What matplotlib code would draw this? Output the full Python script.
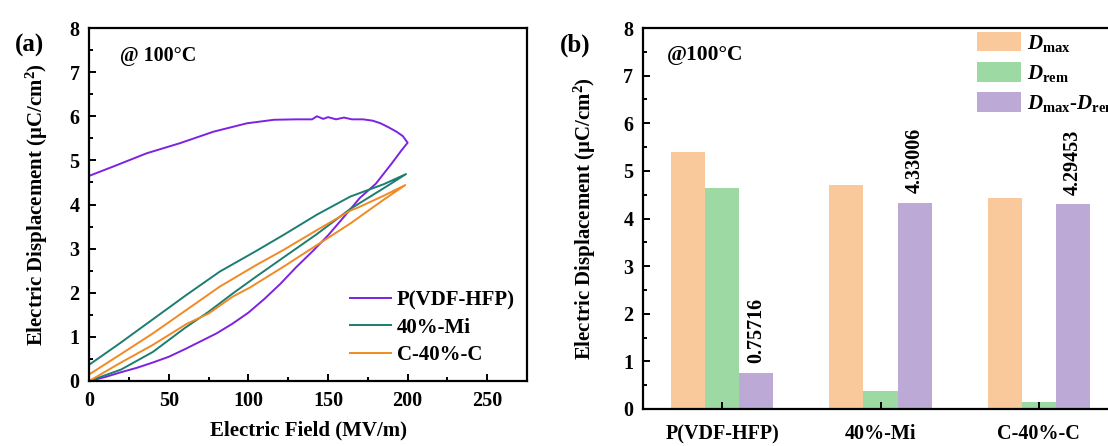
import matplotlib
matplotlib.use("Agg")
import matplotlib.pyplot as plt
import numpy as np
from matplotlib.ticker import MultipleLocator

plt.rcParams["font.family"] = ["Liberation Serif", "DejaVu Serif"]
plt.rcParams["font.weight"] = "bold"
plt.rcParams["axes.labelweight"] = "bold"
plt.rcParams["mathtext.fontset"] = "custom"
plt.rcParams["mathtext.rm"] = "Liberation Serif:bold"
plt.rcParams["mathtext.bf"] = "Liberation Serif:bold"
plt.rcParams["mathtext.it"] = "Liberation Serif:italic:bold"

# (a) D-E loops @100C
pvdf_E = [0, 10, 20, 30, 40, 50, 60, 70, 80, 90, 100, 110, 120, 130, 140, 150, 160, 170, 180, 190, 196, 200,
          197, 193, 188, 183, 178, 172, 165, 160, 155, 150, 147, 143, 140, 130, 116, 99, 78, 57, 36, 15, 0]
pvdf_D = [0, 0.09, 0.2, 0.3, 0.42, 0.55, 0.72, 0.9, 1.08, 1.3, 1.55, 1.86, 2.2, 2.58, 2.93, 3.3, 3.72, 4.15, 4.47, 4.93, 5.22, 5.4,
          5.55, 5.65, 5.75, 5.84, 5.9, 5.93, 5.93, 5.97, 5.93, 5.98, 5.94, 6.0, 5.93, 5.93, 5.92, 5.84, 5.65, 5.39, 5.16, 4.86, 4.65]

mi_E = [0, 20, 40, 60, 75, 90, 105, 122, 143, 164, 185, 199,
        185, 164, 143, 122, 105, 82, 61, 40, 19, 0]
mi_D = [0, 0.26, 0.66, 1.2, 1.57, 1.98, 2.37, 2.8, 3.33, 3.9, 4.37, 4.69,
        4.46, 4.18, 3.77, 3.31, 2.95, 2.48, 1.95, 1.4, 0.85, 0.37]

c_E = [0, 19, 40, 61, 75, 90, 101, 122, 143, 164, 185, 198.5,
       185, 170, 164, 143, 122, 105, 82, 61, 40, 19, 0]
c_D = [0, 0.4, 0.82, 1.29, 1.53, 1.91, 2.12, 2.59, 3.08, 3.57, 4.11, 4.44,
       4.2, 3.95, 3.86, 3.42, 2.97, 2.63, 2.14, 1.61, 1.08, 0.59, 0.15]

# (b) bar chart
samples = ["P(VDF-HFP)", "40%-Mi", "C-40%-C"]
d_max = [5.4, 4.7, 4.44]
d_rem = [4.64, 0.37, 0.15]
d_diff = [0.75716, 4.33006, 4.29453]

fig = plt.figure(figsize=(11.08, 4.46), dpi=100)
ax1 = fig.add_axes([89.3 / 1108, 65 / 446, 437.7 / 1108, 353 / 446])
ax2 = fig.add_axes([643 / 1108, 37 / 446, 475 / 1108, 381 / 446])

# ---- panel (a)
ax1.plot(pvdf_E, pvdf_D, color="#7d22e0", lw=1.4, label="P(VDF-HFP)")
ax1.plot(mi_E, mi_D, color="#1c7d70", lw=1.4, label="40%-Mi")
ax1.plot(c_E, c_D, color="#f08a24", lw=1.4, label="C-40%-C")
ax1.set_xlim(0, 275)
ax1.set_ylim(0, 8)
ax1.xaxis.set_major_locator(MultipleLocator(50))
ax1.xaxis.set_minor_locator(MultipleLocator(25))
ax1.yaxis.set_major_locator(MultipleLocator(1))
ax1.yaxis.set_minor_locator(MultipleLocator(0.5))
ax1.set_xlabel("Electric Field (MV/m)", fontsize=15, labelpad=7)
ax1.set_ylabel("Electric Displacement (\u03bcC/cm$^2$)", fontsize=15, labelpad=14)
ax1.text(0.07, 0.92, "@ 100\u00b0C", transform=ax1.transAxes, fontsize=14.5, va="center")
ax1.legend(loc="lower right", bbox_to_anchor=(1.0, 0.01), frameon=False, fontsize=15,
           handlelength=2.0, handletextpad=0.25, labelspacing=0.35, borderaxespad=0.2)
fig.text(15 / 1108, 1 - 45 / 446, "(a)", fontsize=18, va="center")

# ---- panel (b)
x = np.arange(len(samples))
w = 0.216
ax2.bar(x - w, d_max, w, color="#f9c89b", label="$D_{\\rm max}$")
ax2.bar(x, d_rem, w, color="#9dd9a2", label="$D_{\\rm rem}$")
ax2.bar(x + w, d_diff, w, color="#bca9d6", label="$D_{\\rm max}$-$D_{\\rm rem}$")
for xi, v in zip(x, d_diff):
    ax2.text(xi + w, v + 0.2, f"{v:.5f}".rstrip("0"), rotation=90, ha="center", va="bottom", fontsize=14.5)
ax2.set_xlim(-0.5, 2.5)
ax2.set_ylim(0, 8)
ax2.set_xticks(x)
ax2.set_xticklabels(samples)
ax2.yaxis.set_major_locator(MultipleLocator(1))
ax2.yaxis.set_minor_locator(MultipleLocator(0.5))
ax2.set_axisbelow(False)
ax2.set_ylabel("Electric Displacement (\u03bcC/cm$^2$)", fontsize=15, labelpad=18)
ax2.text(0.05, 0.93, "@100\u00b0C", transform=ax2.transAxes, fontsize=15.5, va="center")
ax2.legend(loc="upper left", bbox_to_anchor=(0.695, 1.0), frameon=False, fontsize=15,
           handlelength=2.1, handleheight=1.05, handletextpad=0.3, labelspacing=0.4,
           borderaxespad=0.1, borderpad=0.1)
fig.text(560 / 1108, 1 - 45 / 446, "(b)", fontsize=18, va="center")

for ax in (ax1, ax2):
    for s in ax.spines.values():
        s.set_linewidth(1.6)
    ax.tick_params(which="both", direction="in", top=False, right=False, width=1.4, labelsize=14.5, pad=7)
    ax.tick_params(which="major", length=5)
    ax.tick_params(which="minor", length=3)
ax2.tick_params(axis="x", which="major", pad=11)

plt.savefig("out.png", dpi=100)
